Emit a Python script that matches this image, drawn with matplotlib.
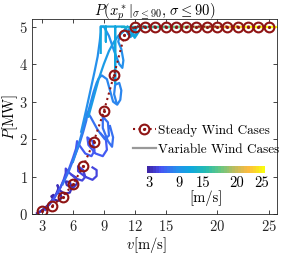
import numpy as np
import matplotlib
matplotlib.use("Agg")
import matplotlib.pyplot as plt
from matplotlib.colors import LinearSegmentedColormap, Normalize
from matplotlib.lines import Line2D

plt.rcParams['font.family'] = 'serif'
plt.rcParams['font.serif'] = ['cmr10', 'DejaVu Serif']
plt.rcParams['mathtext.fontset'] = 'cm'
plt.rcParams['axes.formatter.use_mathtext'] = True
plt.rcParams['font.size'] = 10

# steady wind power curve
v_steady = [3, 4, 5, 6, 7, 8, 9, 10, 11, 12, 13, 14, 15, 16, 17, 18, 19, 20, 21, 22, 23, 24, 25]
p_steady = [0.1, 0.23, 0.47, 0.8, 1.28, 1.92, 2.74, 3.72, 4.77, 5, 5, 5, 5, 5, 5, 5, 5, 5, 5, 5, 5, 5, 5]

# variable wind traces (one per mean wind speed)
v_var03 = [2.5, 2.9, 3.3, 3.7, 4.0, 4.2, 4.1, 3.9, 4.1, 4.6, 4.9, 4.8, 4.5]
p_var03 = [0.03, 0.09, 0.17, 0.27, 0.37, 0.46, 0.52, 0.48, 0.4, 0.36, 0.44, 0.54, 0.58]
v_var04 = [2.7, 3.2, 3.7, 4.1, 4.4, 4.6, 4.5, 4.6, 5.2, 5.7, 5.9, 5.7, 5.3, 5.4, 6.0, 6.4, 6.3, 5.9]
p_var04 = [0.05, 0.15, 0.28, 0.42, 0.56, 0.7, 0.78, 0.66, 0.55, 0.58, 0.72, 0.86, 0.88, 0.78, 0.7, 0.82, 0.98, 1.05]
v_var05 = [3.3, 3.8, 4.3, 4.8, 5.1, 5.3, 5.3, 5.6, 6.3, 6.9, 7.2, 7.0, 6.5, 6.5, 7.2, 7.9, 8.3, 8.3, 7.9]
p_var05 = [0.12, 0.3, 0.5, 0.72, 0.92, 1.1, 1.22, 1.12, 0.95, 0.9, 1.0, 1.18, 1.28, 1.15, 1.0, 0.92, 1.02, 1.18, 1.25]
v_var06 = [4.0, 4.6, 5.1, 5.6, 6.0, 6.3, 6.4, 6.6, 7.2, 7.8, 8.1, 7.9, 7.4, 7.5, 8.2, 8.9, 9.3, 9.2, 8.7]
p_var06 = [0.35, 0.62, 0.9, 1.2, 1.5, 1.75, 1.95, 1.85, 1.62, 1.55, 1.7, 1.95, 2.05, 1.85, 1.62, 1.55, 1.72, 2.0, 2.15]
v_var07 = [5.0, 5.6, 6.1, 6.6, 7.0, 7.3, 7.4, 7.7, 8.4, 9.1, 9.5, 9.4, 8.9, 8.9, 9.4, 9.8, 9.9, 9.6]
p_var07 = [0.8, 1.15, 1.5, 1.85, 2.2, 2.5, 2.72, 2.6, 2.25, 2.0, 2.1, 2.45, 2.6, 2.3, 1.95, 1.8, 2.05, 2.35]
v_var08 = [6.0, 6.6, 7.1, 7.6, 8.0, 8.3, 8.5, 8.8, 9.3, 9.6, 9.9, 10.3, 10.6, 10.7, 10.5, 10.1, 10.0, 10.2]
p_var08 = [1.4, 1.9, 2.4, 2.85, 3.25, 3.5, 3.62, 3.7, 3.6, 3.3, 3.0, 2.92, 3.05, 3.3, 3.5, 3.45, 3.2, 3.0]
v_var09 = [6.8, 7.3, 7.7, 8.1, 8.4, 8.6, 8.7, 8.7, 9.0, 9.5, 10.0, 10.5, 10.8, 10.9, 10.7, 10.4, 10.6, 11.0, 11.3]
p_var09 = [2.2, 2.8, 3.3, 3.8, 4.2, 4.6, 4.85, 5.0, 5.0, 4.75, 4.35, 4.0, 3.9, 4.1, 4.4, 4.6, 4.8, 4.9, 5.0]
v_var10 = [7.5, 8.0, 8.5, 9.0, 9.5, 10.0, 10.4, 10.8, 11.1, 11.5, 11.7, 11.5, 11.3, 11.6, 12.0, 12.3]
p_var10 = [2.6, 3.1, 3.6, 4.0, 4.35, 4.6, 4.75, 4.85, 4.92, 4.75, 4.82, 4.95, 4.85, 4.72, 4.9, 5.0]
v_var11 = [8.7, 8.7, 9.2, 9.2, 9.2, 10.1, 10.1, 10.1, 11.0, 11.6, 12.2, 12.0, 11.7, 12.0, 12.6, 13.0]
p_var11 = [4.3, 5.0, 5.0, 4.6, 5.0, 5.0, 3.5, 5.0, 5.0, 4.75, 4.8, 4.95, 4.85, 4.7, 4.95, 5.0]
u_var = [3, 4, 5, 6, 7, 8, 9, 10, 11]

# above rated: traces sit on rated power over a span of wind speed
rated_p = 5
u_sat = [12, 13, 14, 15, 16, 17, 18, 19, 20, 21, 22, 23, 24, 25]
v_sat_lo = [10.8, 11.8, 12.8, 13.8, 14.8, 15.8, 16.8, 17.8, 18.8, 19.8, 20.8, 21.8, 22.8, 23.8]
v_sat_hi = [13.5, 14.5, 15.5, 16.5, 17.5, 18.5, 19.5, 20.5, 21.5, 22.5, 23.5, 24.5, 25.5, 26.0]

parula = LinearSegmentedColormap.from_list('parula', [
    (0.0, (0.242, 0.150, 0.660)),
    (0.11, (0.281, 0.323, 0.958)),
    (0.25, (0.150, 0.560, 0.930)),
    (0.37, (0.060, 0.660, 0.870)),
    (0.5, (0.150, 0.735, 0.690)),
    (0.62, (0.400, 0.780, 0.510)),
    (0.75, (0.740, 0.740, 0.370)),
    (0.87, (0.990, 0.730, 0.250)),
    (1.0, (0.976, 0.983, 0.054))], N=40)
norm = Normalize(3, 25)

fig = plt.figure(figsize=(2.81, 2.54), dpi=100)
ax = fig.add_axes([0.113, 0.156, 0.872, 0.769])

var_v = [v_var03, v_var04, v_var05, v_var06, v_var07, v_var08, v_var09, v_var10, v_var11]
var_p = [p_var03, p_var04, p_var05, p_var06, p_var07, p_var08, p_var09, p_var10, p_var11]
for u, vv, pp in zip(u_var, var_v, var_p):
    ax.plot(vv, pp, color=parula(norm(u)), lw=1.6, solid_joinstyle='round')
for u, lo, hi in zip(u_sat, v_sat_lo, v_sat_hi):
    ax.plot([lo, hi], [rated_p, rated_p], color=parula(norm(u)), lw=1.6)

red = '#8f1414'
ax.plot(v_steady, p_steady, ':', color=red, lw=1.5, marker='o', ms=7,
        mfc='none', mec=red, mew=1.5)
ax.plot(v_steady, p_steady, ls='none', marker='.', ms=2.5, color=red)

ax.set_xlim(2, 25.8)
ax.set_ylim(0, 5.2)
ax.set_xticks([3, 6, 9, 12, 15, 20, 25])
ax.set_yticks([0, 1, 2, 3, 4, 5])
ax.tick_params(direction='in', top=True, right=True, length=3, width=0.6,
               colors='#262626', labelcolor='#262626', labelsize=10.5, pad=3)
for s in ax.spines.values():
    s.set_linewidth(0.6)
    s.set_color('#262626')

ax.set_title(r'$P(x_p^*|_{\sigma\leq90},\,\sigma\leq90)$', fontsize=10.5, pad=3)
ax.set_xlabel(r'$v$[m/s]', fontsize=10.5)
ax.xaxis.set_label_coords(0.466, -0.105)
ax.set_ylabel(r'$P$[MW]', fontsize=10.5)
ax.yaxis.set_label_coords(-0.048, 0.5)

steady_h = (Line2D([], [], ls=':', color=red, lw=1.5, marker='o', ms=7, mfc='none', mew=1.5),
            Line2D([], [], ls='none', marker='.', ms=2.5, color=red))
var_h = Line2D([], [], color='0.6', lw=1.6)
ax.legend([steady_h, var_h], ['Steady Wind Cases', 'Variable Wind Cases'], loc='upper right',
          bbox_to_anchor=(1.03, 0.49), frameon=False, fontsize=9.5,
          handlelength=1.75, handletextpad=0.15, labelspacing=0.55, borderaxespad=0)

cax = fig.add_axes([0.522, 0.318, 0.421, 0.029])
sm = plt.cm.ScalarMappable(cmap=parula, norm=norm)
cb = fig.colorbar(sm, cax=cax, orientation='horizontal')
cb.outline.set_visible(False)
cb.set_ticks([3.5, 9, 13.5, 19.8, 24.4])
cb.set_ticklabels(['3', '9', '15', '20', '25'])
cax.tick_params(length=0, labelsize=10.5, pad=2)
cb.set_label('[m/s]', fontsize=10.5, labelpad=0)

fig.savefig('out.png', dpi=100)
